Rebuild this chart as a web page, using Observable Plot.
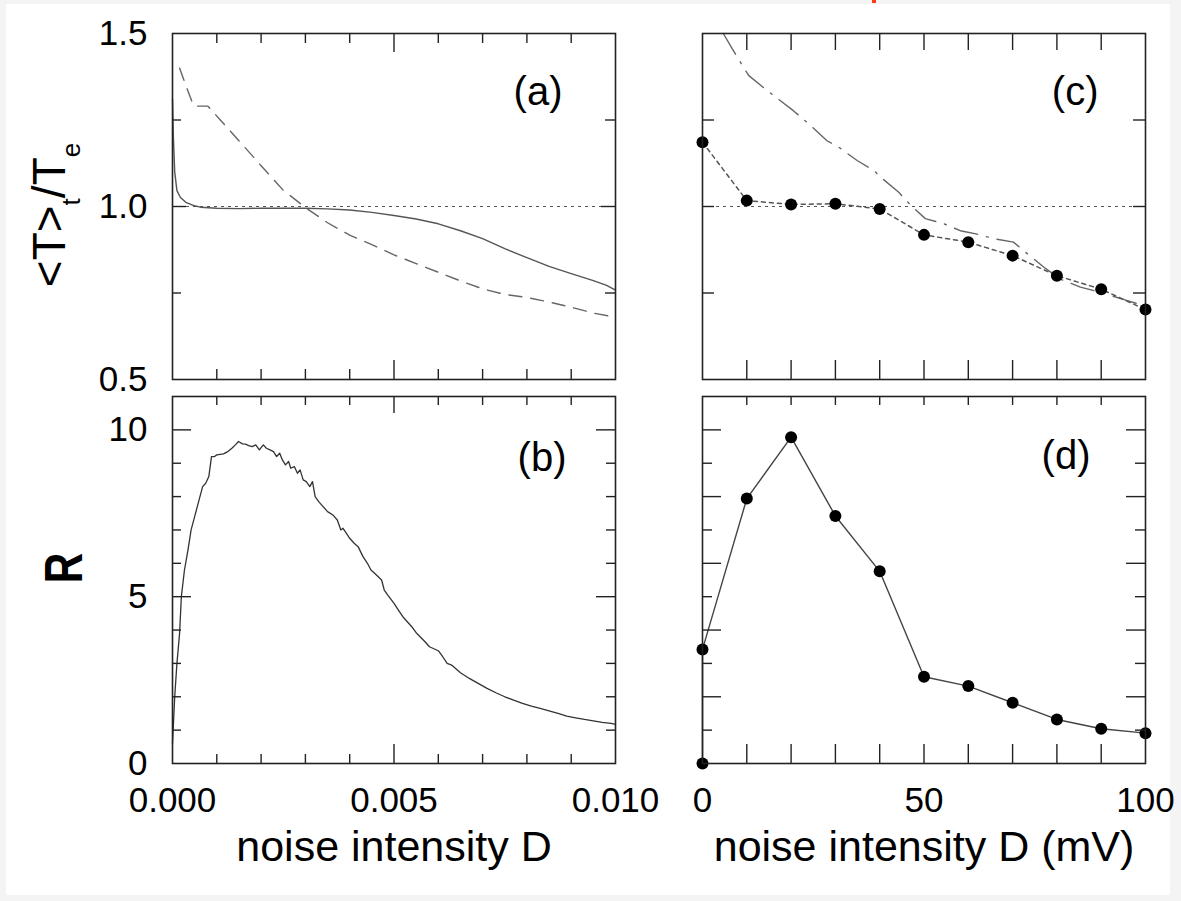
<!DOCTYPE html>
<html><head><meta charset="utf-8">
<script src="https://cdn.jsdelivr.net/npm/d3@7"></script>
<script src="https://cdn.jsdelivr.net/npm/@observablehq/plot@0.6"></script>
<style>
body{margin:0;background:#f4f4f4;font-family:"Liberation Sans",Arial,sans-serif;}
#page{position:relative;width:1181px;height:901px;overflow:hidden;background:#f4f4f4;}
#white{position:absolute;left:6px;top:4px;width:1164px;height:891px;background:#fff;}
#red{position:absolute;left:872px;top:0;width:4px;height:3px;background:#ff3a14;}
.ylab{position:absolute;white-space:nowrap;color:#000;line-height:1;font-family:"Liberation Sans",Arial,sans-serif;}
.ylab sub{font-size:26px;position:relative;top:15px;vertical-align:baseline;line-height:0;}
</style></head><body>
<div id="page"><div id="white"></div><div id="red"></div></div>
<script>
// ---------------- data ----------------
// panel (a): <T>t/Te vs noise intensity D
const aSolidD = [0, 0.00002, 0.00005, 0.0001, 0.00018, 0.0003, 0.00047, 0.00063, 0.001, 0.0015, 0.002, 0.0025, 0.003, 0.0035, 0.004, 0.0045, 0.005, 0.0055, 0.006, 0.0065, 0.007, 0.0075, 0.008, 0.0085, 0.009, 0.0095, 0.0098, 0.01];
const aSolidT = [1.31, 1.20, 1.10, 1.046, 1.026, 1.012, 1.003, 0.998, 0.995, 0.994, 0.995, 0.995, 0.995, 0.993, 0.99, 0.983, 0.974, 0.964, 0.95, 0.93, 0.907, 0.878, 0.852, 0.827, 0.806, 0.786, 0.772, 0.758];
const aDashD = [0.00016, 0.0003, 0.00045, 0.0005, 0.0008, 0.00108, 0.0015, 0.002, 0.0025, 0.003, 0.0035, 0.004, 0.0045, 0.005, 0.0055, 0.006, 0.0065, 0.007, 0.0075, 0.008, 0.0085, 0.009, 0.0095, 0.01];
const aDashT = [1.40, 1.35, 1.30, 1.29, 1.29, 1.25, 1.19, 1.118, 1.047, 0.997, 0.953, 0.917, 0.89, 0.86, 0.835, 0.81, 0.785, 0.762, 0.746, 0.737, 0.724, 0.709, 0.692, 0.68];
// panel (b): R vs noise intensity D
const bD = [0, 0.00005, 0.0001, 0.00016, 0.0002, 0.00027, 0.00035, 0.00042, 0.0005, 0.0006, 0.00068, 0.00075, 0.00082, 0.00088, 0.00095, 0.001, 0.00115, 0.00125, 0.00134, 0.00142, 0.00149, 0.00158, 0.00165, 0.00172, 0.0018, 0.00188, 0.00196, 0.00205, 0.00212, 0.0022, 0.00228, 0.00235, 0.00242, 0.00248, 0.00255, 0.00262, 0.00267, 0.00275, 0.00282, 0.00288, 0.00295, 0.00302, 0.0031, 0.00316, 0.00322, 0.0033, 0.0034, 0.0035, 0.00362, 0.00372, 0.0038, 0.00385, 0.0039, 0.004, 0.0041, 0.00419, 0.0043, 0.0044, 0.00448, 0.00458, 0.00472, 0.00478, 0.00486, 0.005, 0.0051, 0.0052, 0.0054, 0.0055, 0.0057, 0.0058, 0.006, 0.0061, 0.0062, 0.0063, 0.0065, 0.0067, 0.0069, 0.0071, 0.0073, 0.0075, 0.0077, 0.0079, 0.0081, 0.0083, 0.0085, 0.0087, 0.0089, 0.0091, 0.0093, 0.0095, 0.0097, 0.0099, 0.01];
const bR = [0.6, 2.0, 3.0, 3.9, 5.0, 5.8, 6.4, 7.0, 7.4, 7.9, 8.3, 8.4, 8.6, 9.2, 9.2, 9.25, 9.28, 9.35, 9.45, 9.55, 9.65, 9.58, 9.57, 9.53, 9.5, 9.55, 9.4, 9.55, 9.45, 9.4, 9.35, 9.2, 9.3, 9.1, 8.95, 9.05, 8.85, 8.9, 8.7, 8.8, 8.5, 8.45, 8.3, 8.45, 8.0, 7.85, 7.7, 7.55, 7.45, 7.3, 7.0, 7.05, 6.95, 6.75, 6.6, 6.5, 6.2, 6.0, 5.8, 5.68, 5.5, 5.2, 5.05, 4.8, 4.6, 4.4, 4.1, 3.92, 3.65, 3.5, 3.38, 3.2, 3.0, 2.95, 2.72, 2.55, 2.4, 2.25, 2.12, 2.0, 1.9, 1.8, 1.72, 1.65, 1.58, 1.5, 1.42, 1.37, 1.32, 1.28, 1.23, 1.2, 1.17];
// panel (c): <T>t/Te vs D (mV)
const cD = [0, 10, 20, 30, 40, 50, 60, 70, 80, 90, 100];
const cT = [1.186, 1.017, 1.006, 1.008, 0.993, 0.918, 0.897, 0.858, 0.80, 0.761, 0.702];
const cDashD = [4.7, 6.7, 9, 10.4, 14.6, 20.5, 24.4, 28.1, 30.8, 34.9, 38.7, 40.2, 44.3, 47.3, 50.3, 54.5, 58.2, 62, 65.8, 70.2, 72.9, 77, 80.8, 85.3, 89.8, 95.9, 100];
const cDashT = [1.5, 1.456, 1.408, 1.379, 1.335, 1.277, 1.234, 1.19, 1.171, 1.133, 1.104, 1.085, 1.041, 1.0, 0.965, 0.95, 0.93, 0.92, 0.907, 0.897, 0.868, 0.825, 0.79, 0.767, 0.752, 0.728, 0.712];
// panel (d): R vs D (mV)
const dD = [0, 0, 10, 20, 30, 40, 50, 60, 70, 80, 90, 100];
const dR = [0, 3.42, 7.94, 9.78, 7.42, 5.76, 2.6, 2.32, 1.82, 1.32, 1.04, 0.91];
// reference level
const refLevel = [1.0];
// tick values
const tLabelsY = [0.5, 1.0, 1.5];
const tMinorY = [0.75, 1.25];
const tMajorY = [1.0];
const rLabelsY = [0, 5, 10];
const rMajorY = [5, 10];
const rMinorY = [1, 2, 3, 4, 6, 7, 8, 9];
const rEvenY = [2, 4, 6, 8, 10];
const rOddY = [1, 3, 5, 7, 9];
const dLabelsX = [0, 0.005, 0.01];
const dMajorX = [0.005];
const dMinorX = [0.001, 0.002, 0.003, 0.004, 0.006, 0.007, 0.008, 0.009];
const mvLabelsX = [0, 50, 100];
const mvTicksX = [10, 20, 30, 40, 50, 60, 70, 80, 90];
const panelTags = ["(a)", "(b)", "(c)", "(d)"];
const xTitles = ["noise intensity D", "noise intensity D (mV)"];

// ---------------- layout ----------------
const page = document.getElementById("page");
const W = 443, HT = 346, HB = 367;
const ML = 90, MR = 20, MT = 20;
const FRAME = "#222";
const zip = (xs, ys) => xs.map((x, i) => ({x, y: ys[i]}));

function ticks(vals, side, len, w, h) {
  const o = {stroke: FRAME, strokeWidth: 1.4};
  if (side === "bottom") return Plot.tickX(vals, {x: d => d, insetTop: h - len, ...o});
  if (side === "top") return Plot.tickX(vals, {x: d => d, insetBottom: h - len, ...o});
  if (side === "left") return Plot.tickY(vals, {y: d => d, insetRight: w - len, ...o});
  return Plot.tickY(vals, {y: d => d, insetLeft: w - len, ...o});
}
function tag(t, dx, dy) {
  return Plot.text([t], {text: d => d, frameAnchor: "top-right", textAnchor: "end", lineAnchor: "middle", dx, dy, fontSize: 40, fill: "#000"});
}
function panel({left, top, h, mb, x, y, marks}) {
  const svg = Plot.plot({
    width: ML + W + MR, height: MT + h + mb,
    marginLeft: ML, marginRight: MR, marginTop: MT, marginBottom: mb,
    x, y,
    style: {background: "transparent", overflow: "visible", fontFamily: "Liberation Sans, Arial, sans-serif", fontSize: "35px", color: "#000"},
    marks
  });
  svg.style.position = "absolute";
  svg.style.left = (left - ML) + "px";
  svg.style.top = (top - MT) + "px";
  page.appendChild(svg);
}

// (a)
panel({left: 172, top: 33, h: HT, mb: 20,
  x: {domain: [0, 0.01], axis: null}, y: {domain: [0.5, 1.5]},
  marks: [
    Plot.ruleY(refLevel, {stroke: "#555", strokeWidth: 1.2, strokeDasharray: "3,4"}),
    Plot.line(zip(aDashD, aDashT), {x: "x", y: "y", stroke: "#666", strokeWidth: 1.4, strokeDasharray: "13,9"}),
    Plot.line(zip(aSolidD, aSolidT), {x: "x", y: "y", stroke: "#555", strokeWidth: 1.4}),
    ticks(dMinorX, "top", 10, W, HT), ticks(dMajorX, "top", 19, W, HT),
    ticks(dMinorX, "bottom", 10, W, HT), ticks(dMajorX, "bottom", 19, W, HT),
    ticks(tMinorY, "left", 9, W, HT), ticks(tMajorY, "left", 14, W, HT),
    ticks(tMinorY, "right", 10, W, HT), ticks(tMajorY, "right", 14, W, HT),
    Plot.frame({stroke: FRAME, strokeWidth: 1.6}),
    Plot.axisY(tLabelsY, {tickSize: 0, tickPadding: 25, tickFormat: d3.format(".1f"), label: null, fill: "#000"}),
    tag(panelTags[0], -53, 59)
  ]});

// (b)
panel({left: 172, top: 396, h: HB, mb: 120,
  x: {domain: [0, 0.01]}, y: {domain: [0, 11]},
  marks: [
    Plot.line(zip(bD, bR), {x: "x", y: "y", stroke: "#333", strokeWidth: 1.3}),
    ticks(dMinorX, "top", 9, W, HB), ticks(dMajorX, "top", 17, W, HB),
    ticks(dMinorX, "bottom", 9, W, HB), ticks(dMajorX, "bottom", 19, W, HB),
    ticks(rMinorY, "left", 9, W, HB), ticks(rMajorY, "left", 19, W, HB),
    ticks(rMinorY, "right", 9, W, HB), ticks(rMajorY, "right", 19, W, HB),
    Plot.frame({stroke: FRAME, strokeWidth: 1.6}),
    Plot.axisY(rLabelsY, {tickSize: 0, tickPadding: 25, label: null, fill: "#000"}),
    Plot.axisX(dLabelsX, {tickSize: 0, tickPadding: 24, tickFormat: d3.format(".3f"), label: null, fill: "#000"}),
    Plot.text([xTitles[0]], {text: d => d, frameAnchor: "bottom", lineAnchor: "bottom", dy: 97, fontSize: 43, fill: "#000"}),
    tag(panelTags[1], -49, 62)
  ]});

// (c)
panel({left: 702, top: 33, h: HT, mb: 20,
  x: {domain: [0, 100], axis: null}, y: {domain: [0.5, 1.5], axis: null},
  marks: [
    Plot.ruleY(refLevel, {stroke: "#555", strokeWidth: 1.2, strokeDasharray: "3,4"}),
    Plot.line(zip(cDashD, cDashT), {x: "x", y: "y", stroke: "#666", strokeWidth: 1.4, strokeDasharray: "24,9,2,9"}),
    Plot.line(zip(cD, cT), {x: "x", y: "y", stroke: "#555", strokeWidth: 1.5, strokeDasharray: "4,4"}),
    Plot.dot(zip(cD, cT), {x: "x", y: "y", r: 6, fill: "#000", stroke: "none"}),
    ticks(mvTicksX, "top", 17, W, HT), ticks(mvTicksX, "bottom", 19, W, HT),
    ticks(tMinorY.concat(tMajorY), "left", 12, W, HT), ticks(tMinorY.concat(tMajorY), "right", 12, W, HT),
    Plot.frame({stroke: FRAME, strokeWidth: 1.6}),
    tag(panelTags[2], -47, 59)
  ]});

// (d)
panel({left: 702, top: 396, h: HB, mb: 120,
  x: {domain: [0, 100]}, y: {domain: [0, 11], axis: null},
  marks: [
    Plot.line(zip(dD, dR), {x: "x", y: "y", stroke: "#444", strokeWidth: 1.4}),
    Plot.dot(zip(dD, dR), {x: "x", y: "y", r: 6, fill: "#000", stroke: "none"}),
    ticks(mvTicksX, "top", 9, W, HB), ticks(mvTicksX, "bottom", 19, W, HB),
    ticks(rEvenY, "left", 19, W, HB), ticks(rOddY, "left", 10, W, HB),
    ticks(rEvenY, "right", 19, W, HB), ticks(rOddY, "right", 10, W, HB),
    Plot.frame({stroke: FRAME, strokeWidth: 1.6}),
    Plot.axisX(mvLabelsX, {tickSize: 0, tickPadding: 24, label: null, fill: "#000"}),
    Plot.text([xTitles[1]], {text: d => d, frameAnchor: "bottom", lineAnchor: "bottom", dy: 97, fontSize: 43, fill: "#000"}),
    tag(panelTags[3], -55, 60)
  ]});

// rotated y-axis titles
function ylab(html, cx, cy, size, extra) {
  const el = document.createElement("div");
  el.className = "ylab";
  el.innerHTML = html;
  el.style.fontSize = size + "px";
  el.style.left = cx + "px";
  el.style.top = cy + "px";
  el.style.transform = "translate(-50%,-50%) rotate(-90deg)" + (extra || "");
  page.appendChild(el);
  return el;
}
ylab("&lt;T&gt;<sub>t</sub>/T<sub>e</sub>", 49, 215, 46);
const r = ylab("R", 63, 568, 54, " scaleX(0.78)");
r.style.fontWeight = "bold";
</script>
</body></html>
